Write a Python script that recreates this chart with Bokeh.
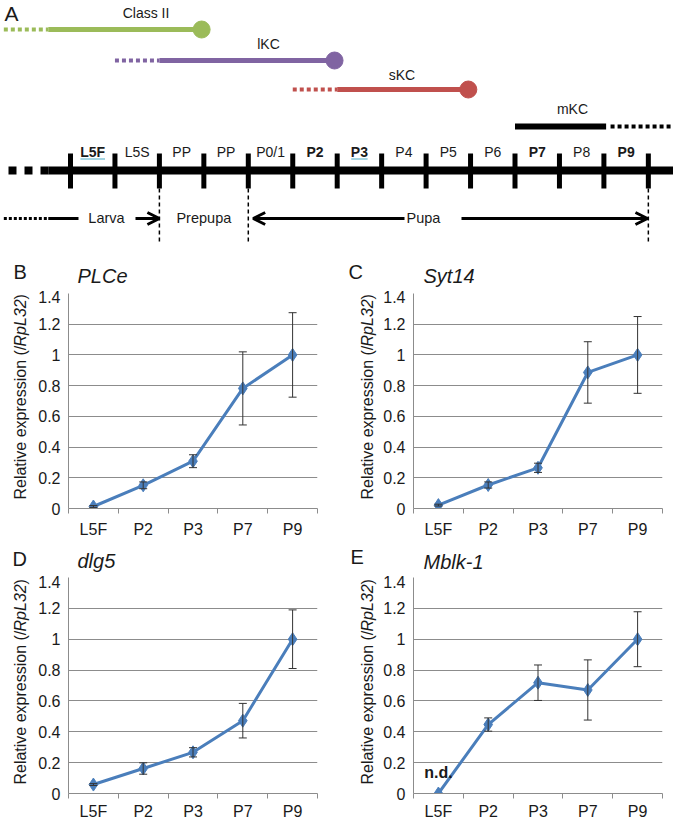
from math import pi
from bokeh.plotting import figure
from bokeh.layouts import column, row
from bokeh.models import (Range1d, Arrow, OpenHead, Whisker, TeeHead,
                          ColumnDataSource, FixedTicker, NumeralTickFormatter)
from bokeh.core.properties import value
from bokeh.embed import file_html
from bokeh.resources import INLINE

FONT = "Liberation Sans"

# ---------------- data: panel A (developmental time line) ----------------
stages = ["L5F", "L5S", "PP", "PP", "P0/1", "P2", "P3", "P4", "P5", "P6", "P7", "P8", "P9"]
sampled_stages = ["L5F", "P2", "P3", "P7", "P9"]          # bold in the time line
underlined_stages = ["L5F", "P3"]

lineages = ["Class II", "lKC", "sKC"]
lineage_dotted_from = [-1.5, 1.0, 5.0]    # stage units
lineage_solid_from = [-0.5, 2.0, 6.0]
lineage_end = [2.95, 5.94, 8.95]
mkc_solid = [10.0, 12.05]
mkc_dotted = [12.15, 13.5]
larva_end, prepupa_end, pupa_end = 2, 4, 13

# ---------------- data: panels B-E (qRT-PCR) ----------------
sample_labels = ["L5F", "P2", "P3", "P7", "P9"]
plce_mean = [0.013, 0.151, 0.308, 0.782, 1.0]
plce_err = [0.006, 0.022, 0.042, 0.238, 0.275]
syt14_mean = [0.022, 0.153, 0.265, 0.886, 1.0]
syt14_err = [0.006, 0.020, 0.030, 0.200, 0.250]
dlg5_mean = [0.058, 0.162, 0.267, 0.472, 1.0]
dlg5_err = [0.006, 0.037, 0.030, 0.112, 0.190]
mblk1_mean = [0.0, 0.447, 0.718, 0.671, 1.0]
mblk1_err = [0.0, 0.043, 0.115, 0.195, 0.178]
y_ticks = [0, 0.2, 0.4, 0.6, 0.8, 1, 1.2, 1.4]

# ---------------- styling / layout ----------------
LINEAGE_COLORS = ["#9BBB59", "#8064A2", "#C0504D"]
BLUE = "#4A7EBB"
GRAY = "#8C8C8C"
TXT = "#1a1a1a"
PX0, PXS = 70.0, 44.45     # pixel of stage boundary 0, pixels per stage
W = 673


def stg(px):
    return (px - PX0) / PXS


def txt(p, x, y, s, size, style="normal", align="center", angle=0.0, color=TXT, baseline="middle"):
    p.text(x=[x], y=[y], text=[s], text_font=value(FONT), text_font_size=f"{size}px", angle=angle,
           text_font_style=style, text_align=align, text_baseline=baseline, text_color=color)


def btxt(p, x, ybase, s, size, **kw):
    """text given by its alphabetic baseline (pixel-like y axis pointing down)"""
    txt(p, x, ybase - 0.35 * size, s, size, **kw)


def canvas(width, height, xr, yr, bt=0, bb=0):
    p = figure(width=width, height=height, x_range=Range1d(*xr), y_range=Range1d(*yr),
               output_backend="svg", toolbar_location=None, title=None, min_border=0,
               min_border_top=bt, min_border_bottom=bb,
               x_axis_location=None, y_axis_location=None, outline_line_color=None)
    p.grid.visible = False
    return p


# ================= panel A (+ headers of B and C) =================
HA = 290
pa = canvas(W, HA, (stg(0), stg(W)), (HA, 0))

ROW_Y = [29, 60, 89]
MKC_Y = 126
pa.segment(x0=lineage_dotted_from, x1=lineage_solid_from, y0=ROW_Y, y1=ROW_Y,
           line_color=LINEAGE_COLORS, line_width=4, line_dash="4 3")
pa.segment(x0=lineage_solid_from, x1=lineage_end, y0=ROW_Y, y1=ROW_Y,
           line_color=LINEAGE_COLORS, line_width=5)
pa.scatter(x=lineage_end, y=ROW_Y, size=17, color=LINEAGE_COLORS, marker="circle")
for name, cx, by in zip(lineages, [145.5, 268, 401.5], [17, 48, 79]):
    btxt(pa, stg(cx), by, name, 14)

pa.segment(x0=[mkc_solid[0]], x1=[mkc_solid[1]], y0=[MKC_Y], y1=[MKC_Y], line_color="black", line_width=6)
pa.segment(x0=[mkc_dotted[0]], x1=[mkc_dotted[1]], y0=[MKC_Y], y1=[MKC_Y], line_color="black",
           line_width=4, line_dash="4 3")
btxt(pa, stg(572), 113, "mKC", 14)

btxt(pa, stg(4), 20, "A", 21, align="left")

# time line
TL_Y = 170
nst = len(stages)
pa.segment(x0=[stg(8)], x1=[-0.5], y0=[TL_Y], y1=[TL_Y], line_color="black", line_width=8, line_dash="8 8")
pa.segment(x0=[-0.5], x1=[nst + 0.7], y0=[TL_Y], y1=[TL_Y], line_color="black", line_width=8)
bounds = list(range(nst + 1))
pa.segment(x0=bounds, x1=bounds, y0=[153] * len(bounds), y1=[188] * len(bounds),
           line_color="black", line_width=5)
for i, s in enumerate(stages):
    style = "bold" if s in sampled_stages else "normal"
    btxt(pa, i + 0.5, 156.5, s, 14, style=style)
    if s in underlined_stages:
        hw = 4.1 * len(s) / PXS
        pa.segment(x0=[i + 0.5 - hw], x1=[i + 0.5 + hw], y0=[158.5], y1=[158.5],
                   line_color="#4BACC6", line_width=1.2)

# phases
PH_Y = 218
pa.segment(x0=[-1.5], x1=[-0.5], y0=[PH_Y], y1=[PH_Y], line_color="black", line_width=3, line_dash="3 2")
pa.segment(x0=[-0.5], x1=[stg(78)], y0=[PH_Y], y1=[PH_Y], line_color="black", line_width=3)
btxt(pa, stg(106), 223, "Larva", 14.5)
pa.add_layout(Arrow(end=OpenHead(size=12, line_width=3), start=None, x_start=stg(135), y_start=PH_Y,
                    x_end=larva_end, y_end=PH_Y, line_width=3))
btxt(pa, (larva_end + prepupa_end) / 2, 223, "Prepupa", 14.5)
pa.add_layout(Arrow(end=OpenHead(size=12, line_width=3), start=None, x_start=stg(404), y_start=PH_Y,
                    x_end=prepupa_end + 0.11, y_end=PH_Y, line_width=3))
btxt(pa, stg(423), 223, "Pupa", 14.5)
pa.add_layout(Arrow(end=OpenHead(size=12, line_width=3), start=None, x_start=stg(461), y_start=PH_Y,
                    x_end=pupa_end - 0.02, y_end=PH_Y, line_width=3))
pb = [larva_end, prepupa_end, pupa_end]
pa.segment(x0=pb, x1=pb, y0=[188] * 3, y1=[244] * 3, line_color="black", line_width=1.5, line_dash="4 3")

# headers of panels B and C
btxt(pa, stg(13), 278, "B", 20, align="left")
btxt(pa, stg(77), 282, "PLCe", 20, style="italic", align="left")
btxt(pa, stg(348), 278, "C", 20, align="left")
btxt(pa, stg(423), 282, "Syt14", 20, style="italic", align="left")

# headers of panels D and E
H2_TOP, H2_H = 540, 35
ph2 = canvas(W, H2_H, (0, W), (H2_TOP + H2_H, H2_TOP))
btxt(ph2, 12, 565, "D", 20, align="left")
btxt(ph2, 77, 567, "dlg5", 20, style="italic", align="left")
btxt(ph2, 350, 563, "E", 20, align="left")
btxt(ph2, 423, 568, "Mblk-1", 20, style="italic", align="left")


# ================= panels B-E =================
def ytitle_strip(x0, x1, top, height, bt, bb, cx, bottom_start):
    # frame of the strip coincides with the frame of the neighbouring chart
    s = canvas(x1 - x0, height, (x0, x1), (top + height - bb, top + bt), bt=bt, bb=bb)
    w1, w2 = 153.8, 47.1
    ys = [bottom_start, bottom_start - w1, bottom_start - w1 - w2]
    for t, yy, st in zip(["Relative expression (/", "RpL32", ")"], ys, ["normal", "italic", "normal"]):
        txt(s, cx, yy, t, 16, style=st, align="left", angle=pi / 2)
    return s


def expr_panel(mean, err, w, h, bl, br, bt, bb, standoff, nd=False):
    frame_h = h - bt - bb
    ppu = frame_h / 1.4
    p = figure(width=w, height=h, x_range=Range1d(-0.5, 4.5), y_range=Range1d(0, 1.4),
               output_backend="svg", toolbar_location=None, title=None,
               min_border_left=bl, min_border_right=br, min_border_top=bt, min_border_bottom=bb,
               outline_line_color=None)
    xs = list(range(len(sample_labels)))
    p.xaxis.ticker = FixedTicker(ticks=xs, minor_ticks=[x - 0.5 for x in xs] + [xs[-1] + 0.5])
    p.xaxis.major_label_overrides = {i: s for i, s in enumerate(sample_labels)}
    p.xaxis.major_tick_line_color = None
    p.xaxis.major_tick_out = 0
    p.xaxis.major_tick_in = 0
    p.xaxis.minor_tick_line_color = GRAY
    p.xaxis.minor_tick_out = 5
    p.xaxis.minor_tick_in = 0
    p.xaxis.major_label_standoff = standoff
    p.yaxis.ticker = FixedTicker(ticks=y_ticks)
    p.yaxis.formatter = NumeralTickFormatter(format="0.[0]")
    p.yaxis.major_tick_line_color = None
    p.yaxis.minor_tick_line_color = None
    p.yaxis.major_tick_out = 0
    p.yaxis.major_tick_in = 0
    p.yaxis.major_label_standoff = 8
    for ax in (p.xaxis, p.yaxis):
        ax.axis_line_color = GRAY
        ax.major_label_text_font = FONT
        ax.major_label_text_font_size = "16px"
        ax.major_label_text_color = TXT
    p.xgrid.visible = False
    p.ygrid.ticker = FixedTicker(ticks=y_ticks)
    p.ygrid.grid_line_color = GRAY

    p.line(xs, mean, line_color=BLUE, line_width=3)
    p.scatter(xs, mean, marker="diamond", size=13, color=BLUE)
    keep = [i for i in xs if err[i] > 0]
    src = ColumnDataSource(dict(x=[xs[i] for i in keep],
                                upper=[mean[i] + err[i] for i in keep],
                                lower=[mean[i] - err[i] for i in keep]))
    p.add_layout(Whisker(base="x", upper="upper", lower="lower", source=src, level="annotation",
                         line_color="#333333", line_width=1,
                         upper_head=TeeHead(size=8, line_color="#333333", line_width=1),
                         lower_head=TeeHead(size=8, line_color="#333333", line_width=1)))
    if nd:
        txt(p, 0, (15 + 0.35 * 16) / ppu, "n.d.", 16, style="bold")
    return p


R1_TOP, R1_H, R1_BT, R1_BB = HA, 250, 3, 31
R2_TOP, R2_H, R2_BT, R2_BB = H2_TOP + H2_H, 247, 2, 28

sB = ytitle_strip(0, 30, R1_TOP, R1_H, R1_BT, R1_BB, 20, 500)
pB = expr_panel(plce_mean, plce_err, 310, R1_H, 38, 23, R1_BT, R1_BB, 7)
sC = ytitle_strip(340, 380, R1_TOP, R1_H, R1_BT, R1_BB, 367, 500)
pC = expr_panel(syt14_mean, syt14_err, 293, R1_H, 32, 11, R1_BT, R1_BB, 7)

sD = ytitle_strip(0, 30, R2_TOP, R2_H, R2_BT, R2_BB, 20, 785)
pD = expr_panel(dlg5_mean, dlg5_err, 310, R2_H, 38, 23, R2_BT, R2_BB, 4)
sE = ytitle_strip(340, 380, R2_TOP, R2_H, R2_BT, R2_BB, 367, 785)
pE = expr_panel(mblk1_mean, mblk1_err, 293, R2_H, 32, 11, R2_BT, R2_BB, 4, nd=True)

layout = column(pa, row(sB, pB, sC, pC), ph2, row(sD, pD, sE, pE))
open("out.html", "w").write(file_html(layout, INLINE, title="Kenyon cell gene expression"))
